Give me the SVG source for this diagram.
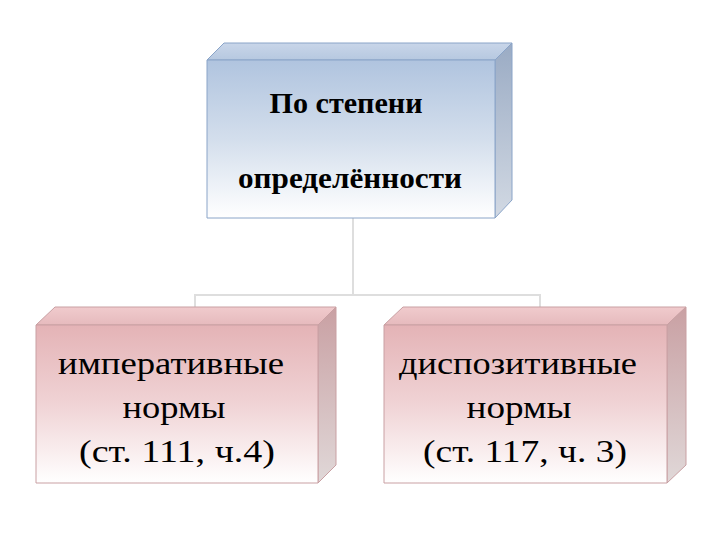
<svg xmlns="http://www.w3.org/2000/svg" width="720" height="540" viewBox="0 0 720 540">
<defs>
<linearGradient id="gBlue" x1="0" y1="0" x2="0" y2="1">
<stop offset="0" stop-color="#b0c4df"/><stop offset="0.5" stop-color="#d3deec"/><stop offset="1" stop-color="#ffffff"/>
</linearGradient>
<linearGradient id="gBlueTop" x1="0" y1="0" x2="0" y2="1">
<stop offset="0" stop-color="#c9d6e9"/><stop offset="1" stop-color="#b6c8e0"/>
</linearGradient>
<linearGradient id="gBlueSide" x1="0" y1="0" x2="0" y2="1">
<stop offset="0" stop-color="#9aabc4"/><stop offset="1" stop-color="#d2d9e3"/>
</linearGradient>
<linearGradient id="gPink" x1="0" y1="0" x2="0" y2="1">
<stop offset="0" stop-color="#e4b3b6"/><stop offset="0.5" stop-color="#f0d3d5"/><stop offset="1" stop-color="#ffffff"/>
</linearGradient>
<linearGradient id="gPinkTop" x1="0" y1="0" x2="0" y2="1">
<stop offset="0" stop-color="#f0cbcd"/><stop offset="1" stop-color="#e6babd"/>
</linearGradient>
<linearGradient id="gPinkSide" x1="0" y1="0" x2="0" y2="1">
<stop offset="0" stop-color="#c9a0a3"/><stop offset="1" stop-color="#e0d8d8"/>
</linearGradient>
</defs>
<style>
.conn{fill:none;stroke:#dedede;stroke-width:2}
.edge{stroke-width:1;stroke-linejoin:round}
.blue{stroke:#8aa4c8}
.pink{stroke:#c9a0a3}
.t1{font-weight:bold;font-size:29px;fill:#000;text-anchor:middle}
.t2{font-size:31px;fill:#000;text-anchor:middle}
</style>
<rect width="720" height="540" fill="#ffffff"/>
<g id="connectors">
<path class="conn" d="M353,218 V295 M195,307 V295 H540 V307"/>
</g>
<g id="node-top" font-family="Liberation Serif, Times New Roman, serif">
<polygon class="edge blue" points="207,60 224,43 512,43 495,60" fill="url(#gBlueTop)"/>
<polygon class="edge blue" points="495,60 512,43 512,200 495,218" fill="url(#gBlueSide)"/>
<rect class="edge blue" x="207" y="60" width="288" height="158" fill="url(#gBlue)"/>
<text class="t1" x="346" y="113" textLength="153" lengthAdjust="spacingAndGlyphs">По степени</text>
<text class="t1" x="350" y="188" textLength="224" lengthAdjust="spacingAndGlyphs">определённости</text>
</g>
<g id="node-left" font-family="Liberation Serif, Times New Roman, serif">
<polygon class="edge pink" points="36,325 55,307 336,307 318,325" fill="url(#gPinkTop)"/>
<polygon class="edge pink" points="318,325 336,307 336,465 318,483" fill="url(#gPinkSide)"/>
<rect class="edge pink" x="36" y="325" width="282" height="158" fill="url(#gPink)"/>
<text class="t2" x="171" y="374" textLength="226" lengthAdjust="spacingAndGlyphs">императивные</text>
<text class="t2" x="174" y="418" textLength="103" lengthAdjust="spacingAndGlyphs">нормы</text>
<text class="t2" x="177" y="462" textLength="196" lengthAdjust="spacingAndGlyphs">(ст. 111, ч.4)</text>
</g>
<g id="node-right" font-family="Liberation Serif, Times New Roman, serif">
<polygon class="edge pink" points="384,325 403,307 686,307 667,325" fill="url(#gPinkTop)"/>
<polygon class="edge pink" points="667,325 686,307 686,465 667,483" fill="url(#gPinkSide)"/>
<rect class="edge pink" x="384" y="325" width="283" height="158" fill="url(#gPink)"/>
<text class="t2" x="518" y="374" textLength="238" lengthAdjust="spacingAndGlyphs">диспозитивные</text>
<text class="t2" x="519" y="418" textLength="105" lengthAdjust="spacingAndGlyphs">нормы</text>
<text class="t2" x="525" y="462" textLength="204" lengthAdjust="spacingAndGlyphs">(ст. 117, ч. 3)</text>
</g>
</svg>
